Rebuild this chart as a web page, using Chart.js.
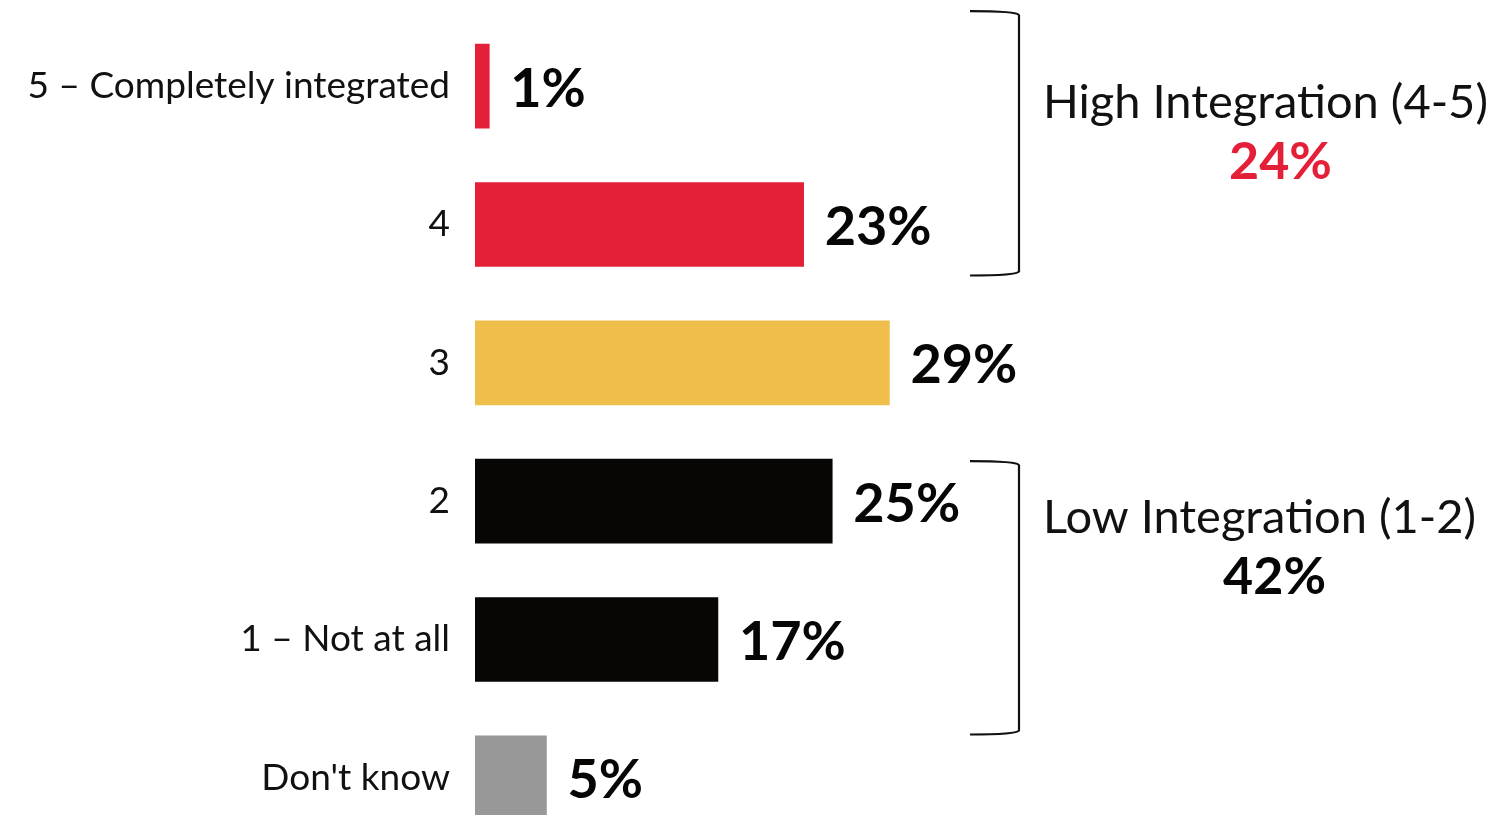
<!DOCTYPE html>
<html>
<head>
<meta charset="utf-8">
<script src="https://cdn.jsdelivr.net/npm/chart.js@4/dist/chart.umd.min.js"></script>
<style>
  html, body { margin: 0; padding: 0; background: #fff; overflow: hidden; }
  #wrap { position: absolute; left: 0; top: 0; width: 1511px; height: 864px; }
</style>
</head>
<body>
<div id="wrap"><canvas id="chart" width="1511" height="864"></canvas></div>
<script>
const categories = ["5 – Completely integrated", "4", "3", "2", "1 – Not at all", "Don't know"];
const shares = [1, 23, 29, 25, 17, 5];
const barColors = ["#E42039", "#E42039", "#F0BE4A", "#070605", "#070605", "#989898"];

// summary groups on the right: which rows they cover
const groupNames = ["High Integration (4-5)", "Low Integration (1-2)"];
const groupRows = [[0, 1], [3, 4]];
const groupColors = ["#E42039", "#070605"];

const FONT = "Lato, 'Open Sans', sans-serif";

// bracket + summary text next to each group
const groupPlugin = {
  id: "groups",
  afterDraw(chart) {
    const ctx = chart.ctx;
    const y = chart.scales.y;
    const bx = 1019;
    const armLeft = 970;
    const pads = [[75, 51], [40, 95]];

    groupRows.forEach((rows, g) => {
      const first = rows[0];
      const last = rows[rows.length - 1];
      const cFirst = y.getPixelForValue(first);
      const cLast = y.getPixelForValue(last);
      const top = cFirst - pads[g][0];
      const bottom = cLast + pads[g][1];

      ctx.save();
      ctx.strokeStyle = "#111";
      ctx.lineWidth = 2.2;
      ctx.beginPath();
      ctx.moveTo(armLeft, top);
      ctx.quadraticCurveTo(bx - 2, top, bx, top + 4);
      ctx.lineTo(bx, bottom - 4);
      ctx.quadraticCurveTo(bx - 2, bottom, armLeft, bottom);
      ctx.stroke();

      const total = rows.reduce((s, i) => s + shares[i], 0);
      const textLeft = 1043;
      ctx.fillStyle = "#111";
      ctx.font = "47px " + FONT;
      ctx.textAlign = "left";
      ctx.textBaseline = "middle";
      ctx.fillText(groupNames[g], textLeft, cFirst + 17);
      const w = ctx.measureText(groupNames[g]).width;

      ctx.fillStyle = groupColors[g];
      ctx.font = "bold 52px " + FONT;
      ctx.textAlign = "center";
      ctx.fillText(total + "%", textLeft + w / 2 + 15, cFirst + 76);
      ctx.restore();
    });
  }
};

// big value labels at the end of every bar
const valuePlugin = {
  id: "values",
  afterDatasetsDraw(chart) {
    const ctx = chart.ctx;
    const meta = chart.getDatasetMeta(0);
    ctx.save();
    ctx.fillStyle = "#070605";
    ctx.font = "bold 54px " + FONT;
    ctx.textAlign = "left";
    ctx.textBaseline = "middle";
    meta.data.forEach((bar, i) => {
      ctx.fillText(shares[i] + "%", bar.x + 21, bar.y + 3);
    });
    ctx.restore();
  }
};

new Chart(document.getElementById("chart"), {
  type: "bar",
  data: {
    labels: categories,
    datasets: [{
      data: shares,
      backgroundColor: barColors,
      borderWidth: 0,
      barThickness: 84
    }]
  },
  options: {
    indexAxis: "y",
    responsive: false,
    animation: false,
    layout: { padding: { top: 17, bottom: 17, left: 0, right: 0 } },
    plugins: {
      legend: { display: false },
      tooltip: { enabled: false }
    },
    scales: {
      x: {
        display: false,
        min: 0,
        max: 72.5
      },
      y: {
        grid: { display: false, drawTicks: false },
        border: { display: false },
        ticks: {
          color: "#111",
          padding: 25,
          font: { family: FONT, size: 37 }
        },
        afterFit(scale) {
          scale.width = 475;
          scale.paddingTop = 0;
          scale.paddingBottom = 0;
        }
      }
    }
  },
  plugins: [valuePlugin, groupPlugin]
});
</script>
</body>
</html>
